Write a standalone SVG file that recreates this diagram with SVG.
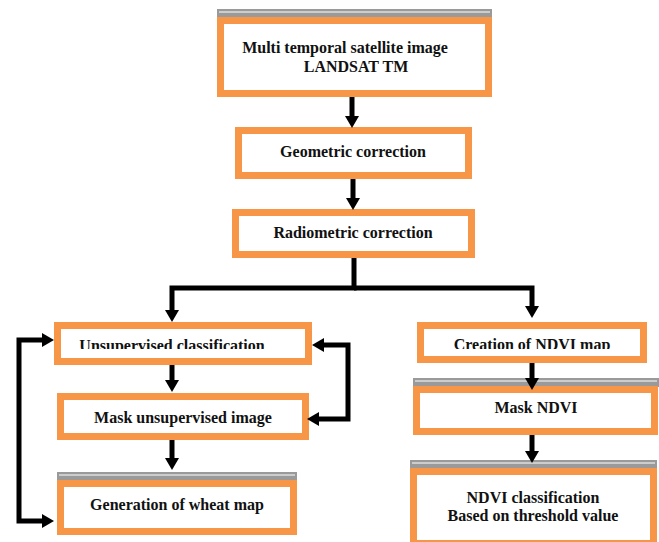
<svg xmlns="http://www.w3.org/2000/svg" width="659" height="542" viewBox="0 0 659 542">
<style>
.box{fill:#fff;stroke:#F79646;stroke-width:7}
.bar{fill:#9a9a9a}
.barl{stroke:#fff;stroke-width:1;fill:none}
.t{font-family:"Liberation Serif","Times New Roman",serif;font-weight:bold;font-size:16px;fill:#111;text-anchor:middle}
.c{fill:none;stroke:#000;stroke-width:5;stroke-linejoin:miter}
</style>
<defs>
<marker id="ah" viewBox="0 0 12 14" refX="0" refY="7" markerWidth="12" markerHeight="14" markerUnits="userSpaceOnUse" orient="auto">
<path d="M0,0 L12,7 L0,14 z" fill="#000"/>
</marker>
<clipPath id="clipU"><rect x="60" y="325" width="250" height="24"/></clipPath>
<clipPath id="clipN"><rect x="420" y="325" width="225" height="24"/></clipPath>
</defs>

<g id="n-multi">
<rect class="bar" x="217" y="9" width="275" height="9"/>
<line class="barl" x1="219" y1="12" x2="490" y2="12"/>
<rect class="box" x="220.5" y="20.5" width="268" height="73"/>
<text class="t" x="345" y="53">Multi temporal satellite image</text>
<text class="t" x="356" y="72">LANDSAT TM</text>
</g>

<g id="n-geo">
<rect class="box" x="238.5" y="130.5" width="230" height="45"/>
<text class="t" x="353" y="157">Geometric correction</text>
</g>

<g id="n-radio">
<rect class="box" x="235.5" y="212.5" width="236" height="42"/>
<text class="t" x="353" y="238">Radiometric correction</text>
</g>

<g id="n-unsup">
<rect class="box" x="57.5" y="325.5" width="251" height="36"/>
<text class="t" x="172" y="351" clip-path="url(#clipU)">Unsupervised classification</text>
</g>

<g id="n-maskunsup">
<rect class="box" x="60.5" y="396.5" width="245" height="40"/>
<text class="t" x="183" y="423">Mask unsupervised image</text>
</g>

<g id="n-wheat">
<rect class="bar" x="57" y="472" width="240" height="9"/>
<line class="barl" x1="59" y1="475" x2="295" y2="475"/>
<rect class="box" x="60.5" y="483.5" width="233" height="48"/>
<text class="t" x="177" y="510">Generation of wheat map</text>
</g>

<g id="n-ndvimap">
<rect class="box" x="420.5" y="325.5" width="223" height="34"/>
<text class="t" x="532" y="350" clip-path="url(#clipN)">Creation of NDVI map</text>
</g>

<g id="n-maskndvi">
<rect class="bar" x="413" y="378" width="246" height="9"/>
<line class="barl" x1="415" y1="381" x2="657" y2="381"/>
<rect class="box" x="416.5" y="389.5" width="238" height="42"/>
<text class="t" x="536" y="413">Mask NDVI</text>
</g>

<g id="n-ndviclass">
<rect class="bar" x="410" y="460" width="247" height="9"/>
<line class="barl" x1="412" y1="463" x2="655" y2="463"/>
<rect class="box" x="413.5" y="471.5" width="240" height="72"/>
<text class="t" x="533" y="503">NDVI classification</text>
<text class="t" x="533" y="521">Based on threshold value</text>
</g>

<g id="connectors">
<path class="c" d="M352,97 L352,116" marker-end="url(#ah)"/>
<path class="c" d="M353,179 L353,198" marker-end="url(#ah)"/>
<path class="c" d="M354,258 L354,288 L172,288 L172,310" marker-end="url(#ah)"/>
<path class="c" d="M354,288 L532,288 L532,306" marker-end="url(#ah)"/>
<path class="c" d="M172,365 L172,380" marker-end="url(#ah)"/>
<path class="c" d="M172,440 L172,458" marker-end="url(#ah)"/>
<path class="c" d="M532,363 L532,378" marker-end="url(#ah)"/>
<path class="c" d="M532,435 L532,451" marker-end="url(#ah)"/>
<path class="c" d="M19,430 L19,340 L42,340" marker-end="url(#ah)"/>
<path class="c" d="M19,430 L19,521 L42,521" marker-end="url(#ah)"/>
<path class="c" d="M348,382 L348,345 L324,345" marker-end="url(#ah)"/>
<path class="c" d="M348,382 L348,419 L319,419" marker-end="url(#ah)"/>
</g>
</svg>
